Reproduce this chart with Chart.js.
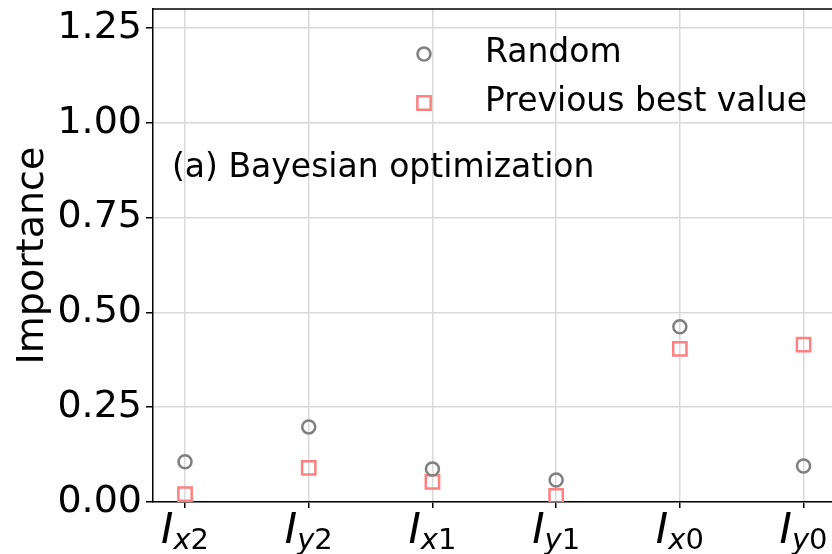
<!DOCTYPE html>
<html>
<head>
<meta charset="utf-8">
<script src="https://cdn.jsdelivr.net/npm/chart.js@4.4.1/dist/chart.umd.min.js"></script>
<style>
  html,body{margin:0;padding:0;background:#fff;overflow:hidden;}
  #wrap{width:832px;height:554px;position:relative;}
</style>
</head>
<body>
<div id="wrap"><canvas id="chart-importance"></canvas></div>
<script>
// variables (subscripts of I) along the x axis
const VARS = [['x','2'],['y','2'],['x','1'],['y','1'],['x','0'],['y','0']];
const RANDOM = [0.106, 0.198, 0.087, 0.058, 0.462, 0.095];
const PREV_BEST = [0.021, 0.090, 0.053, 0.016, 0.404, 0.415];
const Y_TICKS = [0, 0.25, 0.5, 0.75, 1.0, 1.25];

const FONT = 'DejaVu Sans, sans-serif';
const GRAY = '#808080', PINK = '#ff8080', GRID = '#d9d9d9';

const pts = arr => arr.map((v,i)=>({x:i,y:v}));

function marker(ctx, ds, x, y) {
  ctx.strokeStyle=ds.borderColor; ctx.lineWidth=ds.borderWidth;
  ctx.beginPath();
  if (ds.pointStyle==='rect') {
    const h=Math.SQRT1_2*ds.pointRadius;
    ctx.rect(x-h,y-h,2*h,2*h);
  } else {
    ctx.arc(x,y,ds.pointRadius,0,Math.PI*2);
  }
  ctx.stroke();
}

// legend, panel note, top spine and mathtext-ish tick labels
const decor = {
  id:'decor',
  afterDraw(chart){
    const {ctx, chartArea:a, scales:{x}} = chart;
    ctx.save();
    ctx.strokeStyle='#000'; ctx.lineWidth=1.5;
    ctx.beginPath(); ctx.moveTo(a.left,a.top); ctx.lineTo(a.right,a.top); ctx.stroke();

    // x labels: I_{x2}
    ctx.fillStyle='#000'; ctx.textBaseline='alphabetic'; ctx.textAlign='left';
    VARS.forEach(([s,d],i)=>{
      const cx=x.getPixelForValue(i);
      ctx.font=`italic 42px ${FONT}`; const wI=ctx.measureText('I').width;
      ctx.font=`italic 29px ${FONT}`; const wS=ctx.measureText(s).width;
      ctx.font=`29px ${FONT}`; const wD=ctx.measureText(d).width;
      let px=cx-(wI+wS+wD)/2;
      ctx.font=`italic 42px ${FONT}`; ctx.fillText('I',px,543); px+=wI;
      ctx.font=`italic 29px ${FONT}`; ctx.fillText(s,px,549); px+=wS;
      ctx.font=`29px ${FONT}`; ctx.fillText(d,px,549);
    });

    // legend
    ctx.font=`33px ${FONT}`; ctx.textBaseline='middle';
    chart.data.datasets.forEach((ds,k)=>{
      const y=54+k*49;
      marker(ctx,ds,424,y);
      ctx.fillStyle='#000'; ctx.fillText(ds.label,485,y-1);
    });

    ctx.fillText('(a) Bayesian optimization',172,168);
    ctx.restore();
  }
};

new Chart(document.getElementById('chart-importance'),{
  type:'scatter',
  data:{datasets:[
    {label:'Random',data:pts(RANDOM),pointStyle:'circle',pointRadius:6.5,borderWidth:2.5,
     borderColor:GRAY,backgroundColor:'transparent',pointHoverRadius:6.5},
    {label:'Previous best value',data:pts(PREV_BEST),pointStyle:'rect',pointRadius:9.4,borderWidth:2.5,
     borderColor:PINK,backgroundColor:'transparent',pointHoverRadius:9.4},
  ]},
  options:{
    responsive:true, maintainAspectRatio:false, animation:false,
    layout:{autoPadding:false,padding:{top:9,right:0,left:0,bottom:0}},
    plugins:{legend:{display:false},tooltip:{enabled:false}},
    scales:{
      x:{type:'linear',min:-0.259,max:5.23,
        afterBuildTicks:s=>{s.ticks=VARS.map((_,i)=>({value:i}));},
        afterFit:s=>{s.height=52; s.paddingLeft=0; s.paddingRight=0;},
        grid:{color:GRID,lineWidth:1.5,tickColor:'#000',tickLength:6,tickWidth:1.5},
        border:{color:'#000',width:1.5},
        ticks:{callback:()=>'',font:{size:10}}},
      y:{min:0,max:1.3,
        afterBuildTicks:s=>{s.ticks=Y_TICKS.map(v=>({value:v}));},
        afterFit:s=>{s.width=153; s.paddingTop=0; s.paddingBottom=0;},
        grid:{color:GRID,lineWidth:1.5,tickColor:'#000',tickLength:7,tickWidth:1.5},
        border:{color:'#000',width:1.5},
        title:{display:true,text:'Importance',color:'#000',font:{family:FONT,size:38},padding:{top:10,bottom:0}},
        ticks:{color:'#000',padding:4,font:{family:FONT,size:38},callback:v=>v.toFixed(2)}}
    }
  },
  plugins:[decor]
});
</script>
</body>
</html>
